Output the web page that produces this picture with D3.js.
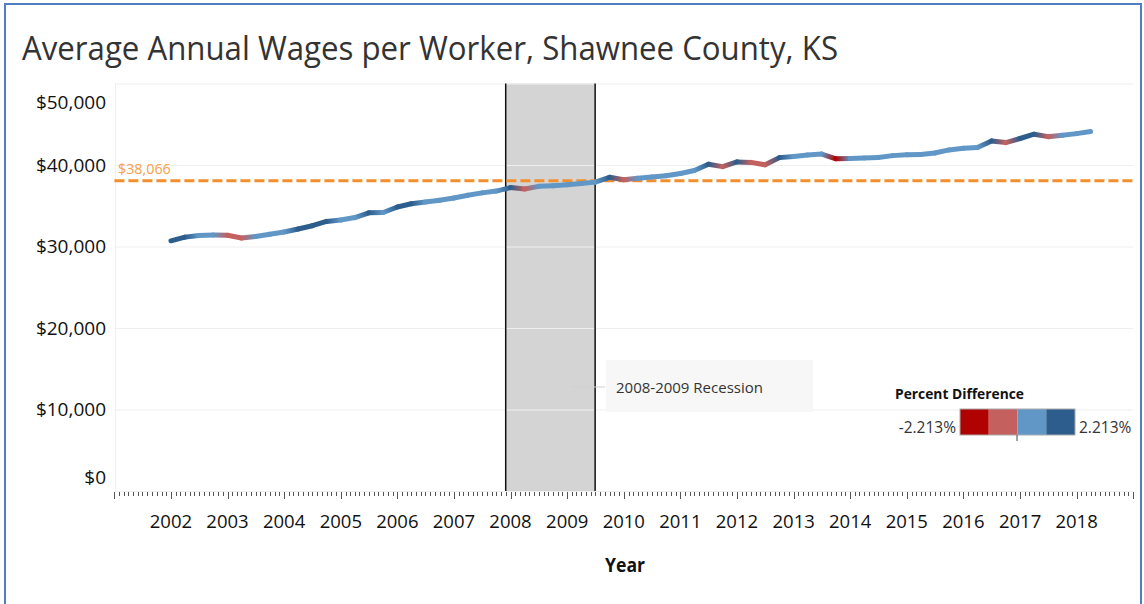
<!DOCTYPE html>
<html><head><meta charset="utf-8">
<script src="https://cdn.jsdelivr.net/npm/d3@7"></script>
<style>
body{margin:0;background:#fff;}
svg{display:block;}
text{font-family:"Open Sans","Noto Sans",sans-serif;}
</style>
</head><body>
<svg id="c" width="1144" height="604"></svg>
<script>
// ---------- data ----------
const quarterStarts = [
 "2002-01-01","2002-04-01","2002-07-01","2002-10-01",
 "2003-01-01","2003-04-01","2003-07-01","2003-10-01",
 "2004-01-01","2004-04-01","2004-07-01","2004-10-01",
 "2005-01-01","2005-04-01","2005-07-01","2005-10-01",
 "2006-01-01","2006-04-01","2006-07-01","2006-10-01",
 "2007-01-01","2007-04-01","2007-07-01","2007-10-01",
 "2008-01-01","2008-04-01","2008-07-01","2008-10-01",
 "2009-01-01","2009-04-01","2009-07-01","2009-10-01",
 "2010-01-01","2010-04-01","2010-07-01","2010-10-01",
 "2011-01-01","2011-04-01","2011-07-01","2011-10-01",
 "2012-01-01","2012-04-01","2012-07-01","2012-10-01",
 "2013-01-01","2013-04-01","2013-07-01","2013-10-01",
 "2014-01-01","2014-04-01","2014-07-01","2014-10-01",
 "2015-01-01","2015-04-01","2015-07-01","2015-10-01",
 "2016-01-01","2016-04-01","2016-07-01","2016-10-01",
 "2017-01-01","2017-04-01","2017-07-01","2017-10-01",
 "2018-01-01","2018-04-01"
];
const wages = [
 30700,31150,31350,31420,
 31380,31050,31220,31500,
 31780,32150,32550,33080,
 33250,33550,34130,34170,
 34850,35250,35450,35680,
 35950,36280,36580,36800,
 37230,37050,37380,37450,
 37580,37720,37900,38490,
 38180,38380,38520,38690,
 38950,39330,40100,39800,
 40380,40320,40020,40905,
 41050,41220,41340,40760,
 40800,40870,40930,41150,
 41250,41280,41480,41850,
 42050,42150,42950,42750,
 43250,43780,43480,43650,
 43850,44100
];
const yTicks = [0,10000,20000,30000,40000,50000];
const yearLabels = [2002,2003,2004,2005,2006,2007,2008,2009,2010,2011,2012,2013,2014,2015,2016,2017,2018];
const refValue = 38066;
const refLabel = "$38,066";
const recession = ["2007-12-01","2009-06-30"];
const recessionLabel = "2008-2009 Recession";
const legendTitle = "Percent Difference";
const legendColors = ["#b10202","#c4605e","#6097c7","#2c5d8d"];
const legendLabels = ["-2.213%","2.213%"];
const legendRange = [-2.213, 2.213];
const titleText = "Average Annual Wages per Worker, Shawnee County, KS";
const xTitle = "Year";

// ---------- setup ----------
const svg = d3.select("#c");
const parse = d3.timeParse("%Y-%m-%d");
const x = d3.scaleTime().domain([new Date(2001,0,1), new Date(2019,0,1)]).range([114.4, 1133.2]);
const y = d3.scaleLinear().domain([0,50000]).range([491, 83.5]);
const color = d3.scaleQuantize().domain(legendRange).range(legendColors);
const fmt = d3.format("$,");

function fit(sel, w){
  sel.attr("textLength", w).attr("lengthAdjust","spacingAndGlyphs");
}

// frame
svg.append("rect").attr("x",5).attr("y",4).attr("width",1136).attr("height",640)
  .attr("fill","none").attr("stroke","#4f7fc0").attr("stroke-width",2);

// title
svg.append("text").attr("x",22).attr("y",60).text(titleText)
  .attr("font-size",33).attr("fill","#333").call(fit, 816);

// recession band
const rx0 = x(parse(recession[0])), rx1 = x(parse(recession[1]));
svg.append("rect").attr("x",rx0).attr("y",y(50000)).attr("width",rx1-rx0).attr("height",y(0)-y(50000))
  .attr("fill","#d4d4d4");

// gridlines
svg.append("g").selectAll("line").data(yTicks).join("line")
  .attr("x1",x.range()[0]).attr("x2",x.range()[1])
  .attr("y1",d=>y(d)+0.5).attr("y2",d=>y(d)+0.5)
  .attr("stroke","#efefef").attr("stroke-width",1.2);
svg.append("line").attr("x1",115.5).attr("x2",115.5).attr("y1",y(50000)).attr("y2",y(0))
  .attr("stroke","#efefef");

// band edges
[rx0, rx1].forEach(v=>{
  svg.append("line").attr("x1",v).attr("x2",v).attr("y1",y(50000)).attr("y2",y(0))
    .attr("stroke","#111").attr("stroke-width",1.5);
});

// y labels
svg.append("g").selectAll("text").data(yTicks).join("text")
  .attr("x",106).attr("text-anchor","end")
  .attr("y",d=> d===50000 ? y(d)+19 : d===0 ? y(d)-14 : y(d))
  .attr("dy","0.35em").attr("font-size",19).attr("fill","#111")
  .text(d=>fmt(d));

// x axis ticks
const months = d3.timeMonth.range(x.domain()[0], d3.timeDay.offset(x.domain()[1],1));
svg.append("g").selectAll("line").data(months).join("line")
  .attr("x1",d=>Math.round(x(d))+0.5).attr("x2",d=>Math.round(x(d))+0.5)
  .attr("y1",492).attr("y2",d=>d.getMonth()===0 ? 499 : 496)
  .attr("stroke","#555").attr("stroke-width",1);

svg.append("g").selectAll("text").data(yearLabels).join("text")
  .attr("x",d=>x(new Date(d,0,1))).attr("y",528).attr("text-anchor","middle")
  .attr("font-size",18.5).attr("fill","#111").text(d=>d);

svg.append("text").attr("x",625).attr("y",572).attr("text-anchor","middle")
  .attr("font-size",19).attr("font-weight","bold").attr("fill","#111").text(xTitle).call(fit,40);

// reference line
svg.append("line").attr("x1",x.range()[0]).attr("x2",x.range()[1])
  .attr("y1",y(refValue)).attr("y2",y(refValue))
  .attr("stroke","#f28e2b").attr("stroke-width",3.2).attr("stroke-dasharray","10,4");
svg.append("text").attr("x",118).attr("y",174).attr("font-size",14.3).attr("fill","#f5a04a").text(refLabel);

// data line
const pts = quarterStarts.map((q,i)=>({d:parse(q), v:wages[i]}));
pts.forEach((p,i)=>{ p.pct = i===0 ? null : (p.v/pts[i-1].v - 1)*100; });
pts[0].pct = pts[1].pct;
const defs = svg.append("defs");
const lg = svg.append("g").attr("fill","none").attr("stroke-width",5).attr("stroke-linecap","round").attr("stroke-linejoin","round");
for(let i=0;i<pts.length-1;i++){
  const a=pts[i], b=pts[i+1];
  const id="g"+i;
  const gr = defs.append("linearGradient").attr("id",id).attr("gradientUnits","userSpaceOnUse")
    .attr("x1",x(a.d)).attr("y1",y(a.v)).attr("x2",x(b.d)).attr("y2",y(b.v));
  gr.append("stop").attr("offset","0%").attr("stop-color",color(Math.max(legendRange[0],Math.min(legendRange[1],a.pct))));
  gr.append("stop").attr("offset","100%").attr("stop-color",color(Math.max(legendRange[0],Math.min(legendRange[1],b.pct))));
  lg.append("line").attr("x1",x(a.d)).attr("y1",y(a.v)).attr("x2",x(b.d)).attr("y2",y(b.v))
    .attr("stroke",`url(#${id})`);
}

// annotation
svg.append("line").attr("x1",573).attr("x2",605).attr("y1",387).attr("y2",387).attr("stroke","#cfcfcf");
svg.append("rect").attr("x",606).attr("y",360).attr("width",207).attr("height",52).attr("fill","#f7f7f7");
svg.append("text").attr("x",616).attr("y",393).attr("font-size",15).attr("fill","#333").text(recessionLabel);

// legend
svg.append("text").attr("x",895).attr("y",399).attr("font-size",15).attr("font-weight","bold").attr("fill","#111")
  .text(legendTitle).call(fit,129);
const lw = (1075-960)/legendColors.length;
svg.append("g").selectAll("rect").data(legendColors).join("rect")
  .attr("x",(d,i)=>960+i*lw).attr("y",409).attr("width",lw).attr("height",26).attr("fill",d=>d);
svg.append("rect").attr("x",960).attr("y",409).attr("width",115).attr("height",26).attr("fill","none").attr("stroke","#aaa");
svg.append("line").attr("x1",1017).attr("x2",1017).attr("y1",435).attr("y2",441).attr("stroke","#444");
svg.append("text").attr("x",956).attr("y",433).attr("text-anchor","end").attr("font-size",15.5).attr("fill","#333").text(legendLabels[0]);
svg.append("text").attr("x",1079).attr("y",433).attr("font-size",15.5).attr("fill","#333").text(legendLabels[1]);
</script>
</body></html>
